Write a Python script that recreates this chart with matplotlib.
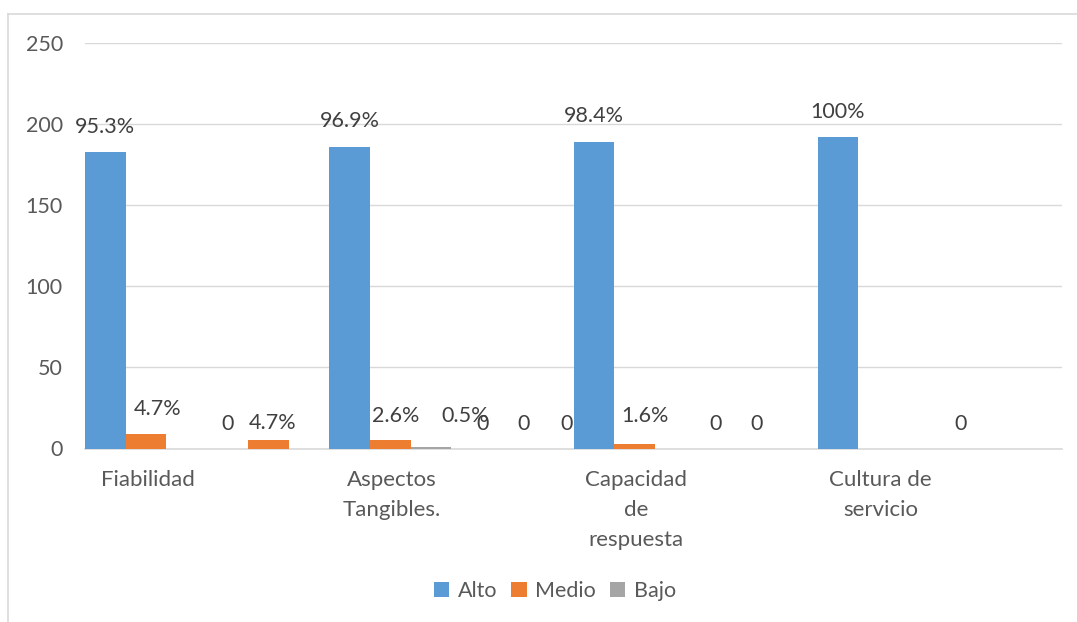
import matplotlib
matplotlib.use("Agg")
import matplotlib.pyplot as plt
from matplotlib.patches import Patch
from matplotlib.lines import Line2D
import numpy as np

plt.rcParams['font.family'] = ['Lato', 'DejaVu Sans']

# Eight category slots; the empty ones carry no axis label
categories = ["Fiabilidad", "", "Aspectos\nTangibles.", "",
              "Capacidad\nde\nrespuesta", "", "Cultura de\nservicio", ""]
series_names = ["Alto", "Medio", "Bajo"]
alto = [183, 0, 186, 0, 189, 0, 192, 0]
medio = [9, 5, 5, 0, 3, 0, 0, 0]
bajo = [0, 0, 1, 0, 0, 0, 0, 0]

alto_labels = ["95.3%", "0", "96.9%", "0", "98.4%", "0", "100%", "0"]
medio_labels = ["4.7%", "4.7%", "2.6%", "0", "1.6%", "0", None, None]
bajo_labels = [None, None, "0.5%", "0", None, None, None, None]
y_ticks = [0, 50, 100, 150, 200, 250]

colors = ["#5B9BD5", "#ED7D31", "#A5A5A5"]
text_color = "#595959"
label_color = "#404040"

# Label offsets (pixels) from the top-centre of each bar
alto_off = [(0, 25), (0, 25), (0, 26), (11, 25), (0, 26), (0, 25), (-1, 25), (0, 25)]
medio_off = [(12, 25), (4, 17), (5, 24), (11, 25), (10, 28), (0, 25), (0, 25), (0, 25)]
bajo_off = [(0, 25), (0, 25), (34, 31), (13, 25), (0, 25), (0, 25), (0, 25), (0, 25)]

W, H = 1077, 622
fig = plt.figure(figsize=(W / 100, H / 100), dpi=100)
ax = fig.add_axes([85 / W, 1 - 448.5 / H, 977 / W, 405.5 / H])

x = np.arange(len(categories))
bw = 1 / 3
px2pt = 0.72
fs = 15.5
for i, (vals, labs, offs) in enumerate([(alto, alto_labels, alto_off),
                                         (medio, medio_labels, medio_off),
                                         (bajo, bajo_labels, bajo_off)]):
    xs = x + (i - 1) * bw
    ax.bar(xs, vals, width=bw, color=colors[i], zorder=3)
    for xi, v, lab, (dx, dy) in zip(xs, vals, labs, offs):
        if lab is None:
            continue
        ax.annotate(lab, (xi, v), xytext=(dx * px2pt, dy * px2pt),
                    textcoords="offset points", ha="center", va="center",
                    fontsize=fs, color=label_color, zorder=4)

ax.set_xlim(-0.5, len(categories) - 0.5)
ax.set_ylim(0, 250)
ax.set_yticks(y_ticks)
ax.set_yticklabels([str(t) for t in y_ticks], fontsize=fs, color=text_color)
ax.tick_params(axis='y', length=0, pad=16)
ax.tick_params(axis='x', length=0)
ax.set_xticks([])
ax.grid(axis='y', color="#D9D9D9", linewidth=1.0, zorder=0)
for s in ["top", "right", "left"]:
    ax.spines[s].set_visible(False)
ax.spines["bottom"].set_color("#D9D9D9")
ax.spines["bottom"].set_linewidth(1.2)

# Category labels, centred under their slot, one line every 30 px
for xi, cat in zip(x, categories):
    if not cat:
        continue
    for j, line in enumerate(cat.split("\n")):
        ax.annotate(line, (xi, 0), xytext=(1.5 * px2pt, -(31 + 30 * j) * px2pt),
                    textcoords="offset points", ha="center", va="center",
                    fontsize=16, color=text_color)

handles = [Patch(facecolor=c, edgecolor='none') for c in colors]
fig.legend(handles, series_names, loc="center", bbox_to_anchor=(555 / W, 1 - 591 / H),
           ncol=3, frameon=False, fontsize=fs, handlelength=0.7, handleheight=0.7,
           handletextpad=0.4, columnspacing=0.65, labelcolor=text_color)

# Chart frame (top and left edges)
fig.add_artist(Line2D([8 / W, 1], [1 - 14 / H, 1 - 14 / H], color="#D9D9D9", lw=1.2))
fig.add_artist(Line2D([8 / W, 8 / W], [0, 1 - 14 / H], color="#D9D9D9", lw=1.2))

fig.savefig("out.png", dpi=100)
